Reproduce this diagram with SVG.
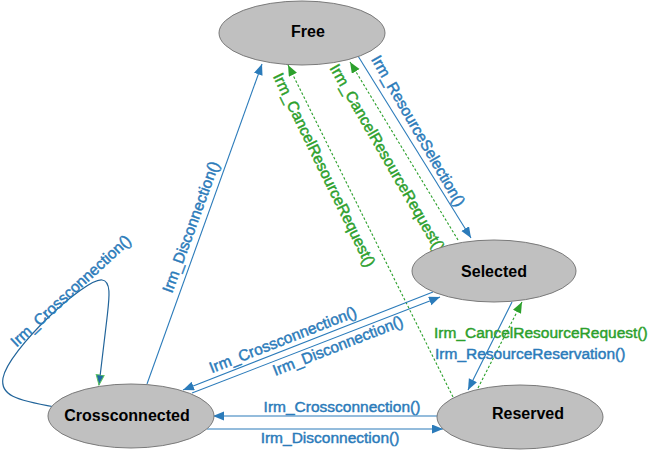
<svg xmlns="http://www.w3.org/2000/svg" width="648" height="470" viewBox="0 0 648 470">
<defs>
<style>
.node ellipse{fill:#c0c0c0;stroke:#7a7a7a;stroke-width:1}
.node text{font-family:"Liberation Sans",Arial,sans-serif;font-weight:bold;font-size:16px;fill:#000;text-anchor:middle}
.b{stroke:#2b7bba;stroke-width:1.1;fill:none}
.g{stroke:#2ca02c;stroke-width:1.1;fill:none;stroke-dasharray:2.5,2}
.lb{font-family:"Liberation Sans",Arial,sans-serif;font-size:15.5px;fill:#2b7bba;stroke:#2b7bba;stroke-width:0.45}
.lg{font-family:"Liberation Sans",Arial,sans-serif;font-size:15.5px;fill:#2ca02c;stroke:#2ca02c;stroke-width:0.45}
.m{text-anchor:middle}
</style>
<marker id="ab" markerUnits="userSpaceOnUse" markerWidth="12" markerHeight="10" refX="11" refY="4.5" orient="auto">
<path d="M0,0 L11,4.5 L0,9 z" fill="#2b7bba"/>
</marker>
<marker id="ag" markerUnits="userSpaceOnUse" markerWidth="12" markerHeight="10" refX="11" refY="4.5" orient="auto">
<path d="M0,0 L11,4.5 L0,9 z" fill="#2ca02c"/>
</marker>
<marker id="al" markerUnits="userSpaceOnUse" markerWidth="12" markerHeight="10" refX="10.5" refY="4.5" orient="auto">
<path d="M0.5,0.5 L10.5,4.5 L0.5,8.5 z" fill="#1f6aa5" stroke="#5cc35c" stroke-width="1"/>
</marker>
</defs>
<g id="connectors">
<line class="b" x1="147" y1="384" x2="262" y2="64" marker-end="url(#ab)"/>
<line class="b" x1="358" y1="56" x2="471" y2="238" marker-end="url(#ab)"/>
<line class="g" x1="458" y1="240" x2="350" y2="62" marker-end="url(#ag)"/>
<line class="g" x1="453" y1="397" x2="288" y2="65" marker-end="url(#ag)"/>
<line class="b" x1="433" y1="292" x2="183" y2="390" marker-end="url(#ab)"/>
<line class="b" x1="192" y1="393" x2="440" y2="297" marker-end="url(#ab)"/>
<line class="b" x1="438" y1="416" x2="213" y2="416" marker-end="url(#ab)"/>
<line class="b" x1="207" y1="429" x2="443" y2="429" marker-end="url(#ab)"/>
<line class="b" x1="512" y1="302" x2="468" y2="390" marker-end="url(#ab)"/>
<line class="g" x1="478" y1="388" x2="522" y2="302" marker-end="url(#ag)"/>
<path d="M55,407 C15,400 0,395 3,378 C8,350 85,278 102,280 C112,281 109,300 107,318 L99,385" fill="none" stroke="#21649a" stroke-width="1.2" marker-end="url(#al)"/>
<text class="lb m" transform="translate(191,227) rotate(-70)" y="5">Irm_Disconnection()</text>
<text class="lb m" transform="translate(418,131) rotate(60)" y="5">Irm_ResourceSelection()</text>
<text class="lg m" transform="translate(387,158) rotate(60)" y="5">Irm_CancelResourceRequest()</text>
<text class="lg m" transform="translate(324,170) rotate(64)" y="5">Irm_CancelResourceRequest()</text>
<text class="lb m" transform="translate(71,291) rotate(-42.5)" y="5">Irm_Crossconnection()</text>
<text class="lb m" transform="translate(283,340) rotate(-21.4)" y="5">Irm_Crossconnection()</text>
<text class="lb m" transform="translate(338,346) rotate(-21.4)" y="5">Irm_Disconnection()</text>
<text class="lb m" x="342" y="412">Irm_Crossconnection()</text>
<text class="lb m" x="330" y="443">Irm_Disconnection()</text>
<text class="lg" x="434" y="338">Irm_CancelResourceRequest()</text>
<text class="lb" x="435" y="359">Irm_ResourceReservation()</text>
</g>
<g id="free" class="node"><ellipse cx="302" cy="33" rx="83" ry="32"/><text x="308" y="37">Free</text></g>
<g id="selected" class="node"><ellipse cx="494" cy="271" rx="82" ry="31"/><text x="494" y="277">Selected</text></g>
<g id="reserved" class="node"><ellipse cx="520" cy="417" rx="83" ry="32"/><text x="528" y="419">Reserved</text></g>
<g id="crossconnected" class="node"><ellipse cx="131" cy="416" rx="83" ry="32"/><text x="127" y="421">Crossconnected</text></g>
</svg>
